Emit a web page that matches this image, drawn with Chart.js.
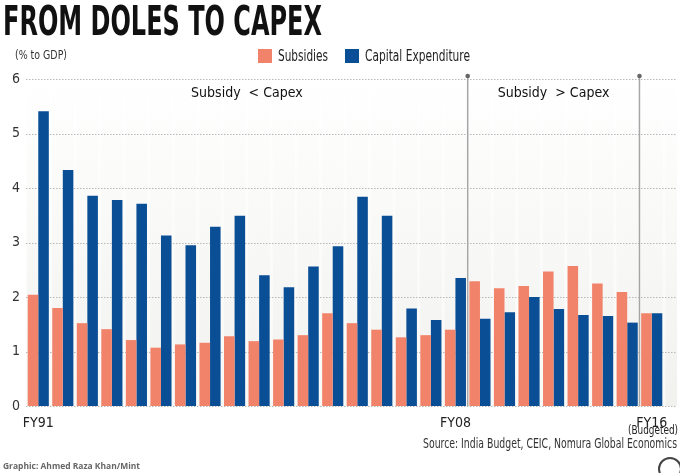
<!DOCTYPE html>
<html><head><meta charset="utf-8">
<script src="https://cdn.jsdelivr.net/npm/chart.js@4.4.1/dist/chart.umd.min.js"></script>
<style>
html,body{margin:0;padding:0;background:#fff;}
#wrap{position:relative;width:680px;height:473px;overflow:hidden;font-family:"Liberation Sans Narrow","DejaVu Sans Condensed",sans-serif;color:#222;}
canvas{position:absolute;left:0;top:0;}
.t{position:absolute;white-space:nowrap;transform-origin:0 50%;}
.sw{position:absolute;width:14px;height:14px;}
</style></head>
<body><div id="wrap">
<canvas id="c" width="680" height="473"></canvas>
<div class="t" id="title" data-w="319" style="left:3px;top:0px;font-size:41px;font-weight:bold;line-height:42px;color:#111;">FROM DOLES TO CAPEX</div>
<div class="t" id="unit" data-w="52" style="left:15px;top:47px;font-size:12px;line-height:16px;color:#333;">(% to GDP)</div>
<div class="sw" style="left:258px;top:49px;background:#f2836b;"></div>
<div class="t" id="leg1" data-w="50" style="left:278px;top:47px;font-size:15px;line-height:18px;color:#222;">Subsidies</div>
<div class="sw" style="left:345px;top:49px;background:#0a4f96;"></div>
<div class="t" id="leg2" data-w="105" style="left:365px;top:47px;font-size:15px;line-height:18px;color:#222;">Capital Expenditure</div>
<div class="t" id="src" data-w="254" data-right="677" style="top:434px;font-size:14px;line-height:18px;color:#333;">Source: India Budget, CEIC, Nomura Global Economics</div>
<div class="t" id="credit" data-w="137" style="left:3px;top:460px;font-family:'Open Sans',sans-serif;font-weight:bold;font-size:9px;line-height:12px;color:#666;">Graphic: Ahmed Raza Khan/Mint</div>
<div style="position:absolute;left:658px;top:457px;width:20px;height:20px;border:2px solid #444;border-radius:50%;"></div>
</div>
<script>
const categories = ['FY91','FY92','FY93','FY94','FY95','FY96','FY97','FY98','FY99','FY00','FY01','FY02','FY03','FY04','FY05','FY06','FY07','FY08','FY09','FY10','FY11','FY12','FY13','FY14','FY15','FY16'];
const subsidies = [2.04,1.80,1.52,1.41,1.21,1.07,1.13,1.16,1.28,1.19,1.22,1.30,1.70,1.52,1.40,1.26,1.30,1.40,2.29,2.16,2.20,2.47,2.57,2.25,2.09,1.70];
const capex = [5.41,4.33,3.86,3.78,3.71,3.13,2.95,3.29,3.49,2.40,2.18,2.56,2.93,3.84,3.49,1.79,1.58,2.35,1.60,1.72,2.00,1.78,1.67,1.65,1.53,1.70];
const yTicks = [0,1,2,3,4,5,6];
const shownTicks = ['FY91','FY08','FY16'];
const budgetedTick = 'FY16';
const budgetedNote = '(Budgeted)';
const dividers = [['FY08','FY09'],['FY15','FY16']];
const regionLabels = ['Subsidy  < Capex','Subsidy  > Capex'];

const FONT = '"Liberation Sans Narrow","DejaVu Sans Condensed",sans-serif';

document.querySelectorAll('.t[data-w]').forEach(el=>{
  const w = +el.dataset.w; const cur = el.getBoundingClientRect().width;
  el.style.transform = 'scaleX(' + (w/cur) + ')';
  if (el.dataset.right) el.style.left = (+el.dataset.right - w) + 'px';
});

const bgPlugin = {
  id:'bg',
  beforeDraw(chart){
    const {ctx, chartArea:a, scales:{x,y}} = chart;
    ctx.save();
    const top = y.getPixelForValue(6);
    const g = ctx.createLinearGradient(0, top, 0, a.bottom);
    g.addColorStop(0,'#ffffff'); g.addColorStop(1,'#f1f1ee');
    ctx.fillStyle = g;
    ctx.fillRect(a.left, top, 677 - a.left, a.bottom - top);
    ctx.fillStyle = 'rgba(255,255,255,0.55)';
    const cw = x.getPixelForValue(1)-x.getPixelForValue(0);
    for (let i=0;i<=categories.length;i++){
      const xp = x.getPixelForValue(0) + (i - 0.5)*cw;
      ctx.fillRect(xp-1.5, top+11, 3, a.bottom - top - 11);
    }
    ctx.strokeStyle = '#b8b8b8'; ctx.lineWidth = 1; ctx.setLineDash([1.5,1.5]);
    yTicks.forEach(v=>{
      const yp = Math.round(y.getPixelForValue(v)) + 0.5;
      ctx.beginPath(); ctx.moveTo(a.left, yp); ctx.lineTo(677, yp); ctx.stroke();
    });
    ctx.restore();
  }
};

const annoPlugin = {
  id:'anno',
  afterDatasetsDraw(chart){
    const {ctx, chartArea:a, scales:{x,y}} = chart;
    ctx.save();
    const xs = dividers.map(([p,q]) => (x.getPixelForValue(categories.indexOf(p)) + x.getPixelForValue(categories.indexOf(q)))/2);
    const topY = y.getPixelForValue(6) - 3;
    xs.forEach(xp=>{
      ctx.strokeStyle = '#a6a6a6'; ctx.lineWidth = 1.5;
      ctx.beginPath(); ctx.moveTo(xp, topY); ctx.lineTo(xp, a.bottom); ctx.stroke();
      ctx.fillStyle = '#666';
      ctx.beginPath(); ctx.arc(xp, topY, 2.3, 0, Math.PI*2); ctx.fill();
    });
    ctx.fillStyle = '#111';
    ctx.font = '14px ' + FONT;
    ctx.textAlign = 'center'; ctx.textBaseline = 'middle';
    const ly = y.getPixelForValue(6) + 14;
    ctx.fillText(regionLabels[0], (a.left + xs[0])/2, ly);
    ctx.fillText(regionLabels[1], (xs[0] + xs[1])/2, ly);
    // budgeted note under last tick, right-aligned to the frame edge
    ctx.fillStyle = '#222';
    ctx.font = '12px ' + FONT;
    const nw = ctx.measureText(budgetedNote).width;
    const target = 50;
    ctx.translate(678, a.bottom + 25);
    ctx.scale(Math.min(1, target/nw), 1);
    ctx.textAlign = 'right';
    ctx.fillText(budgetedNote, 0, 0);
    ctx.restore();
  }
};

new Chart(document.getElementById('c'), {
  type:'bar',
  data:{
    labels: categories,
    datasets:[
      {label:'Subsidies', data:subsidies, backgroundColor:'#f2836b', borderWidth:0},
      {label:'Capital Expenditure', data:capex, backgroundColor:'#0a4f96', borderWidth:0}
    ]
  },
  options:{
    responsive:false, animation:false,
    layout:{padding:{top:79, left:0, right:16, bottom:27}},
    datasets:{bar:{categoryPercentage:0.86, barPercentage:1.0}},
    plugins:{legend:{display:false}, tooltip:{enabled:false}},
    scales:{
      x:{
        grid:{display:false}, border:{display:false},
        ticks:{
          autoSkip:false, maxRotation:0, minRotation:0, padding:1,
          color:'#222', font:{family:FONT, size:14},
          callback:(v,i)=>{
            const c = categories[i];
            return shownTicks.includes(c) ? c : '';
          }
        },
        afterFit:s=>{s.height = 40;}
      },
      y:{
        min:0, max:6,
        grid:{display:false, drawTicks:false}, border:{display:false},
        afterBuildTicks:s=>{s.ticks = yTicks.map(v=>({value:v}));},
        ticks:{padding:6, color:'#333', font:{family:FONT, size:14}},
        afterFit:s=>{s.width = 26;}
      }
    }
  },
  plugins:[bgPlugin, annoPlugin]
});
</script>
</body></html>
